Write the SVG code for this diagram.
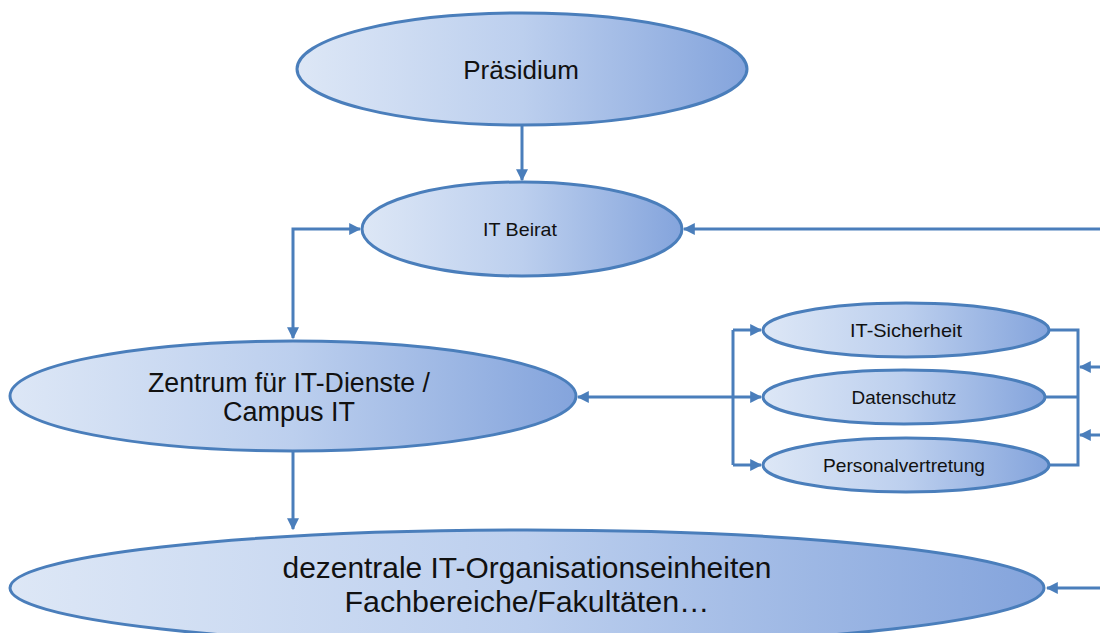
<svg xmlns="http://www.w3.org/2000/svg" width="1100" height="633" viewBox="0 0 1100 633">
<defs>
<linearGradient id="g" x1="0" y1="0" x2="1" y2="0">
<stop offset="0" stop-color="#dde7f6"/>
<stop offset="0.5" stop-color="#bccfee"/>
<stop offset="1" stop-color="#84a4dc"/>
</linearGradient>
<marker id="ah" viewBox="0 0 10 10" refX="9" refY="5" markerWidth="4" markerHeight="4" orient="auto-start-reverse" markerUnits="strokeWidth">
<path d="M0,0 L10,5 L0,10 z" fill="#4a7ebb"/>
</marker>
</defs>
<style>
.n{fill:url(#g);stroke:#4a7ebb;stroke-width:3}
.t{font-family:"Liberation Sans",Arial,sans-serif;fill:#111;text-anchor:middle}
.c{fill:none;stroke:#4a7ebb;stroke-width:3}
</style>
<rect width="1100" height="633" fill="#fff"/>
<g id="connectors">
<path class="c" d="M522,126 V180" marker-end="url(#ah)"/>
<path class="c" d="M293,338 V229 H360" marker-start="url(#ah)" marker-end="url(#ah)"/>
<path class="c" d="M293,452 V529" marker-end="url(#ah)"/>
<path class="c" d="M1100,229 H684" marker-end="url(#ah)"/>
<path class="c" d="M578,397 H761" marker-start="url(#ah)" marker-end="url(#ah)"/>
<path class="c" d="M733,330 V465"/>
<path class="c" d="M733,330 H761" marker-end="url(#ah)"/>
<path class="c" d="M733,465 H761" marker-end="url(#ah)"/>
<path class="c" d="M1049,330 H1078 V465 H1049"/>
<path class="c" d="M1045,397 H1078"/>
<path class="c" d="M1100,367 H1080" marker-end="url(#ah)"/>
<path class="c" d="M1100,435 H1080" marker-end="url(#ah)"/>
<path class="c" d="M1100,588 H1047" marker-end="url(#ah)"/>
</g>
<g id="praesidium">
<ellipse class="n" cx="522" cy="69" rx="225" ry="56"/>
<text class="t" x="521" y="79" font-size="26">Präsidium</text>
</g>
<g id="it-beirat">
<ellipse class="n" cx="522" cy="229" rx="160" ry="47"/>
<text class="t" x="520" y="236" font-size="19" textLength="74" lengthAdjust="spacingAndGlyphs">IT Beirat</text>
</g>
<g id="zentrum">
<ellipse class="n" cx="293" cy="396" rx="283" ry="55"/>
<text class="t" x="289" y="392" font-size="27" textLength="282" lengthAdjust="spacingAndGlyphs">Zentrum für IT-Dienste /</text>
<text class="t" x="289" y="421" font-size="27">Campus IT</text>
</g>
<g id="it-sicherheit">
<ellipse class="n" cx="906" cy="330" rx="143" ry="27"/>
<text class="t" x="906" y="337" font-size="19" textLength="112" lengthAdjust="spacingAndGlyphs">IT-Sicherheit</text>
</g>
<g id="datenschutz">
<ellipse class="n" cx="904" cy="397" rx="141" ry="27"/>
<text class="t" x="904" y="404" font-size="19" textLength="105" lengthAdjust="spacingAndGlyphs">Datenschutz</text>
</g>
<g id="personalvertretung">
<ellipse class="n" cx="906" cy="465" rx="143" ry="27"/>
<text class="t" x="904" y="472" font-size="19" textLength="162" lengthAdjust="spacingAndGlyphs">Personalvertretung</text>
</g>
<g id="dezentrale">
<ellipse class="n" cx="527" cy="588" rx="517" ry="58"/>
<text class="t" x="527" y="578" font-size="29" textLength="489" lengthAdjust="spacingAndGlyphs">dezentrale IT-Organisationseinheiten</text>
<text class="t" x="527" y="612" font-size="29" textLength="365" lengthAdjust="spacingAndGlyphs">Fachbereiche/Fakultäten…</text>
</g>
</svg>
